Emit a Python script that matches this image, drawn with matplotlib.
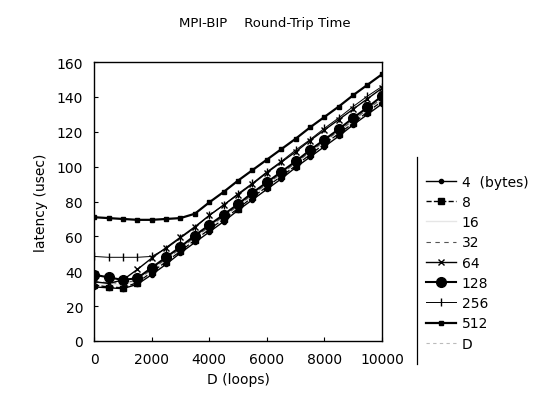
import matplotlib.pyplot as plt
import numpy as np
from matplotlib.lines import Line2D

# D (loops)
loops = [0, 500, 1000, 1500, 2000, 2500, 3000, 3500, 4000, 4500, 5000,
         5500, 6000, 6500, 7000, 7500, 8000, 8500, 9000, 9500, 10000]

# latency (usec) per message size
lat_4 = [31, 30.5, 30, 32.5, 38, 44, 50.5, 56.5, 62.5, 68.5, 75,
         81, 87, 93, 99.5, 105.5, 111.5, 117.5, 124, 130, 136]
lat_8 = [32, 31, 30.5, 33.5, 39.5, 45.5, 51.5, 58, 64, 70, 76,
         82.5, 88.5, 94.5, 100.5, 107, 113, 119, 125, 131.5, 137.5]
lat_16 = [33, 32.5, 32, 34.5, 40.5, 46.5, 52.5, 59, 65, 71, 77,
          83.5, 89.5, 95.5, 101.5, 108, 114, 120, 126, 132.5, 138.5]
lat_32 = [34, 33.5, 33, 35, 41, 47, 53, 59.5, 65.5, 71.5, 77.5,
          84, 90, 96, 102, 108.5, 114.5, 120.5, 126.5, 133, 139]
lat_64 = [34, 33, 35, 41, 47.5, 53.5, 59.5, 65.5, 72, 78, 84,
          90, 96.5, 102.5, 108.5, 115, 121, 127, 133, 139, 145]
lat_128 = [38, 36.5, 35, 36, 42, 48, 54, 60.5, 66.5, 72.5, 78.5,
           85, 91, 97, 103, 109.5, 115.5, 121.5, 128, 134, 140.5]
lat_256 = [48.5, 48, 48, 48, 48.5, 53, 59, 65, 72, 78, 84.5,
           90.5, 97, 103, 109.5, 115.5, 122, 128, 134.5, 140.5, 146]
lat_512 = [71, 70.5, 70, 69.5, 69.5, 70, 70.5, 73, 79.5, 85.5, 92,
           98, 104, 110, 116, 122.5, 128.5, 134.5, 141, 147, 153]

sizes = ["4  (bytes)", "8", "16", "32", "64", "128", "256", "512"]

fig = plt.figure(figsize=(5.44, 4.10), dpi=100)
ax = fig.add_axes([0.173, 0.166, 0.529, 0.680])

ax.plot(loops, lat_4, ls="-", color="black", lw=1, marker="o", ms=3, label=sizes[0])
ax.plot(loops, lat_8, ls="--", color="black", lw=1, marker="s", ms=4, label=sizes[1])
ax.plot(loops, lat_16, ls="-", color="#e6e6e6", lw=1, label=sizes[2])
ax.plot(loops, lat_32, ls=(0, (4, 4)), color="#555555", lw=0.8, label=sizes[3])
ax.plot(loops, lat_64, ls="-", color="black", lw=1, marker="x", ms=5, label=sizes[4])
ax.plot(loops, lat_128, ls="-", color="black", lw=1.5, marker="o", ms=7, label=sizes[5])
ax.plot(loops, lat_256, ls="-", color="black", lw=0.7, marker="|", ms=6, label=sizes[6])
ax.plot(loops, lat_512, ls="-", color="black", lw=1.6, marker="s", ms=3.5, label=sizes[7])
ax.plot([], [], ls=(0, (3, 3)), color="#bbbbbb", lw=0.8, label="D")

ax.set_xlim(0, 10000)
ax.set_ylim(0, 160)
ax.set_xticks(np.arange(0, 10001, 2000))
ax.set_yticks(np.arange(0, 161, 20))
ax.tick_params(direction="in", length=3, labelsize=10, pad=8)
for s in ax.spines.values():
    s.set_linewidth(1)

ax.set_xlabel("D (loops)", fontsize=10, labelpad=4)
ax.set_ylabel("latency (usec)", fontsize=10, labelpad=6)

fig.text(0.487, 1 - 23 / 410, "MPI-BIP    Round-Trip Time", ha="center",
         va="center", fontsize=9.5)

leg = ax.legend(loc="upper left", bbox_to_anchor=(0.772, 0.585),
                bbox_transform=fig.transFigure, frameon=False, fontsize=10,
                handlelength=2.2, handletextpad=0.4, labelspacing=0.45,
                borderaxespad=0)

# vertical rule on the left side of the legend
fig.canvas.draw()
bb = leg.get_window_extent().transformed(fig.transFigure.inverted())
fig.add_artist(Line2D([bb.x0 - 0.006, bb.x0 - 0.006], [bb.y0 - 0.02, bb.y1 + 0.03],
                      transform=fig.transFigure, color="black", lw=0.9))

fig.savefig("out.png", dpi=100)
